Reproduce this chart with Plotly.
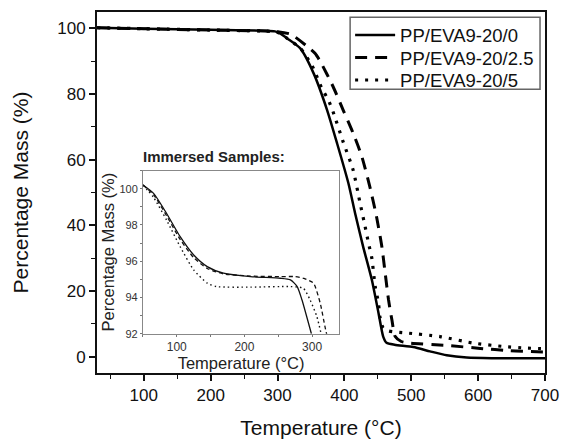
import plotly.graph_objects as go

FONT = "Arial, Liberation Sans, sans-serif"

# ---- main TGA curves ----
names = ["PP/EVA9-20/0", "PP/EVA9-20/2.5", "PP/EVA9-20/5"]

t_0 = [30, 100, 200, 280, 296, 304, 314, 334, 354, 374, 389, 406, 416, 428, 441, 451, 458, 463, 475, 503, 528, 553, 583, 620, 700]
m_0 = [100.2, 99.9, 99.6, 99.3, 99.1, 98.5, 97.0, 93.9, 86.3, 75.2, 65.0, 52.8, 43.7, 33.5, 23.4, 13.3, 6.1, 4.2, 3.6, 2.9, 1.6, 0.4, -0.3, -0.5, -0.5]

t_25 = [30, 100, 200, 280, 300, 320, 345, 356, 364, 383, 398, 413, 426, 438, 448, 456, 461, 466, 471, 476, 485, 498, 553, 603, 647, 700]
m_25 = [100.2, 99.9, 99.5, 99.2, 99.0, 98.2, 94.4, 92.4, 89.9, 82.3, 75.2, 68.1, 61.0, 51.8, 42.7, 33.5, 25.4, 17.3, 11.2, 6.1, 4.6, 4.1, 3.4, 2.5, 1.8, 1.4]

t_5 = [30, 100, 200, 280, 296, 304, 314, 334, 352, 366, 376, 383, 398, 413, 423, 431, 436, 441, 446, 451, 453, 458, 466, 493, 543, 593, 637, 672, 700]
m_5 = [100.2, 99.9, 99.5, 99.2, 99.0, 98.5, 97.0, 94.0, 88.5, 81.8, 78.2, 74.6, 65.5, 56.9, 47.2, 39.6, 34.6, 30.0, 21.4, 16.3, 12.2, 8.7, 7.8, 7.2, 6.1, 4.1, 3.1, 2.6, 2.4]

# ---- inset: immersed samples ----
it_0 = [50, 66, 85, 105, 125, 145, 169, 209, 253, 268, 278, 285, 292, 299]
im_0 = [100.2, 99.73, 98.63, 97.35, 96.34, 95.70, 95.34, 95.15, 95.06, 94.97, 94.60, 93.87, 92.95, 92.0]

it_25 = [50, 66, 85, 105, 125, 145, 169, 209, 253, 275, 288, 302, 312, 319, 322]
im_25 = [100.2, 99.65, 98.5, 97.2, 96.2, 95.6, 95.3, 95.18, 95.15, 95.15, 95.05, 94.79, 93.69, 92.4, 91.9]

it_5 = [50, 66, 85, 105, 125, 145, 159, 209, 268, 287, 297, 307, 314]
im_5 = [100.2, 99.5, 98.26, 96.8, 95.52, 94.79, 94.6, 94.57, 94.6, 94.51, 93.87, 92.95, 91.9]

x_ticks = [100, 200, 300, 400, 500, 600, 700]
y_ticks = [0, 20, 40, 60, 80, 100]
ix_ticks = [100, 200, 300]
iy_ticks = [92, 94, 96, 98, 100]

fig = go.Figure()

main_styles = [dict(color="black", width=2.5, dash="solid"),
               dict(color="black", width=3, dash="12px,8px"),
               dict(color="black", width=3.2, dash="3px,7px")]
legend_ids = ["legend", "legend2", "legend3"]
for t, m, n, s, lg in zip([t_0, t_25, t_5], [m_0, m_25, m_5], names, main_styles, legend_ids):
    fig.add_trace(go.Scatter(x=t, y=m, name=n, mode="lines", legend=lg,
                             line=dict(shape="spline", smoothing=0.6, **s),
                             xaxis="x", yaxis="y"))

inset_styles = [dict(color="#111", width=1.3, dash="solid"),
                dict(color="#111", width=1.3, dash="4px,3px"),
                dict(color="#111", width=1.4, dash="1.5px,3px")]
for t, m, s in zip([it_0, it_25, it_5], [im_0, im_25, im_5], inset_styles):
    fig.add_trace(go.Scatter(x=t, y=m, mode="lines", showlegend=False,
                             line=dict(shape="spline", smoothing=0.6, **s),
                             xaxis="x2", yaxis="y2"))

def legend_row(ypos):
    return dict(x=0.565, y=ypos, xanchor="left", yanchor="top",
                bgcolor="rgba(0,0,0,0)", borderwidth=0,
                font=dict(size=18.5, family=FONT, color="#111"), itemwidth=40)

fig.update_layout(
    width=563, height=439,
    margin=dict(l=97, r=18, t=12, b=66, autoexpand=False),
    paper_bgcolor="white", plot_bgcolor="white",
    font=dict(family=FONT, color="#111"),
    showlegend=True,
    legend=legend_row(0.9874),
    legend2=legend_row(0.925),
    legend3=legend_row(0.863),
    shapes=[dict(type="rect", xref="paper", yref="paper", x0=0.565, x1=0.9889, y0=0.786, y1=0.9853,
                 line=dict(color="#666", width=1.5), fillcolor="white", layer="below")],
    xaxis=dict(range=[30, 700], tickvals=x_ticks, ticks="outside", ticklen=6, tickwidth=1.5,
               tickcolor="#111", showline=True, linecolor="#111", linewidth=1.8, mirror=True,
               showgrid=False, zeroline=False, tickfont=dict(size=17), ticklabelstandoff=0, automargin=False,
               minor=dict(dtick=50, tick0=0, ticks="outside", ticklen=4, tickwidth=1.2, tickcolor="#111", showgrid=False),
               title=dict(text="Temperature (°C)", font=dict(size=21), standoff=16)),
    yaxis=dict(range=[-5, 105], tickvals=y_ticks, ticks="outside", ticklen=6, tickwidth=1.5,
               tickcolor="#111", showline=True, linecolor="#111", linewidth=1.8, mirror=True,
               showgrid=False, zeroline=False, tickfont=dict(size=17), ticklabelstandoff=0, automargin=False,
               minor=dict(dtick=10, tick0=0, ticks="outside", ticklen=4, tickwidth=1.2, tickcolor="#111", showgrid=False),
               title=dict(text="Percentage Mass (%)", font=dict(size=21), standoff=23)),
    xaxis2=dict(domain=[0.1026, 0.5405], anchor="y2", range=[50, 340], tickvals=ix_ticks,
                ticks="outside", ticklen=2, tickwidth=1, tickcolor="#777", automargin=False,
                showline=True, linecolor="#888", linewidth=1, mirror=True, showgrid=False, zeroline=False,
                tickfont=dict(size=12, color="#333"), ticklabelstandoff=0,
                minor=dict(dtick=50, tick0=0, ticks="outside", ticklen=2, tickwidth=1, tickcolor="#777", showgrid=False),
                title=dict(text="Temperature (°C)", font=dict(size=16.5, color="#222"), standoff=0)),
    yaxis2=dict(domain=[0.1088, 0.5608], anchor="x2", range=[92, 101], tickvals=iy_ticks,
                ticks="outside", ticklen=2, tickwidth=1, tickcolor="#777", automargin=False,
                showline=True, linecolor="#888", linewidth=1, mirror=True, showgrid=False, zeroline=False,
                tickfont=dict(size=11, color="#333"),
                minor=dict(dtick=1, tick0=0, ticks="outside", ticklen=2, tickwidth=1, tickcolor="#777", showgrid=False),
                title=dict(text="Percentage Mass (%)", font=dict(size=16.5, color="#222"), standoff=0)),
    annotations=[dict(text="<b>Immersed Samples:</b>", x=0.098, y=0.5995, xref="paper", yref="paper",
                      xanchor="left", yanchor="middle", showarrow=False,
                      font=dict(size=15, family=FONT, color="#222"))],
)

fig.write_html("out.html")
